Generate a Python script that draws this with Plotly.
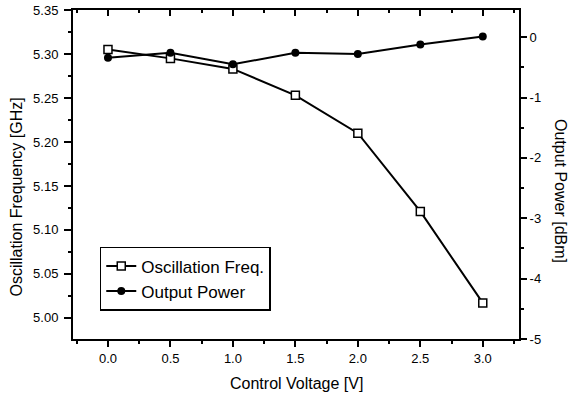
import plotly.graph_objects as go

voltage = [0.0, 0.5, 1.0, 1.5, 2.0, 2.5, 3.0]
osc_freq_ghz = [5.305, 5.295, 5.283, 5.253, 5.210, 5.121, 5.017]
output_power_dbm = [-0.34, -0.26, -0.45, -0.26, -0.28, -0.12, 0.01]

power_tickvals = [0, -1, -2, -3, -4, -5]
power_ticktext = ["0", "-1", "-2", "-3", "-4", "-5"]

FONT = "Liberation Sans, Arial, sans-serif"

fig = go.Figure()
fig.add_trace(go.Scatter(
    x=voltage, y=osc_freq_ghz, name="Oscillation Freq.",
    mode="lines+markers",
    line=dict(color="black", width=2),
    marker=dict(symbol="square", size=8, color="white", line=dict(color="black", width=1.5)),
    xaxis="x", yaxis="y",
))
fig.add_trace(go.Scatter(
    x=voltage, y=output_power_dbm, name="Output Power",
    mode="lines+markers",
    line=dict(color="black", width=2),
    marker=dict(symbol="circle", size=8, color="black"),
    xaxis="x", yaxis="y2",
))
# invisible trace to host the top mirror axis
fig.add_trace(go.Scatter(x=voltage, y=osc_freq_ghz, xaxis="x2", yaxis="y",
                         mode="markers", marker=dict(opacity=0), showlegend=False,
                         hoverinfo="skip"))

tickfont = dict(family=FONT, size=13, color="black")

fig.update_layout(
    width=568, height=399,
    margin=dict(l=73, r=49, t=10, b=60, autoexpand=False),
    paper_bgcolor="white", plot_bgcolor="white",
    font=dict(family=FONT, color="black"),
    showlegend=True,
    legend=dict(
        x=0.06, y=0.28, xanchor="left", yanchor="top",
        bordercolor="black", borderwidth=1.5, bgcolor="white",
        font=dict(family=FONT, size=17, color="black"),
        tracegroupgap=0, itemwidth=30,
    ),
    xaxis=dict(
        range=[-0.28, 3.29], dtick=0.5, tick0=0, tickformat=".1f",
        showgrid=False, zeroline=False, automargin=False,
        showline=True, linecolor="black", linewidth=2,
        ticks="outside", ticklen=6, tickwidth=1.5, tickcolor="black",
        minor=dict(dtick=0.25, ticks="outside", ticklen=3, tickwidth=1.5, tickcolor="black"),
        tickfont=tickfont,
    ),
    xaxis2=dict(
        overlaying="x", side="top", matches="x", automargin=False,
        showgrid=False, zeroline=False, showticklabels=False,
        showline=True, linecolor="black", linewidth=2,
        ticks="inside", ticklen=6, tickwidth=1.5, tickcolor="black",
        dtick=0.5, tick0=0,
        minor=dict(dtick=0.25, ticks="inside", ticklen=3, tickwidth=1.5, tickcolor="black"),
    ),
    yaxis=dict(
        range=[4.976, 5.35], dtick=0.05, tick0=5.0, tickformat=".2f",
        showgrid=False, zeroline=False, automargin=False,
        showline=True, linecolor="black", linewidth=2,
        ticks="outside", ticklen=7, tickwidth=1.5, tickcolor="black",
        ticklabelstandoff=3,
        minor=dict(dtick=0.025, ticks="outside", ticklen=3, tickwidth=1.5, tickcolor="black"),
        tickfont=tickfont,
    ),
    yaxis2=dict(
        overlaying="y", side="right", automargin=False,
        range=[-5, 0.45],
        tickmode="array", tickvals=power_tickvals, ticktext=power_ticktext,
        showgrid=False, zeroline=False,
        showline=True, linecolor="black", linewidth=2,
        ticks="outside", ticklen=6, tickwidth=1.5, tickcolor="black",
        minor=dict(tickmode="linear", dtick=0.5, tick0=0, ticks="outside", ticklen=3, tickwidth=1.5, tickcolor="black"),
        tickfont=tickfont,
    ),
)

title_font = dict(family=FONT, size=16, color="black")
fig.add_annotation(
    text="Control Voltage [V]", xref="paper", yref="paper",
    x=0.5, y=0, yshift=-44, yanchor="middle", showarrow=False, font=title_font,
)
fig.add_annotation(
    text="Oscillation Frequency [GHz]", xref="paper", yref="paper",
    x=0, xshift=-56, y=0.43, textangle=-90, xanchor="center", showarrow=False,
    font=title_font,
)
fig.add_annotation(
    text="Output Power [dBm]", xref="paper", yref="paper",
    x=1.0, xshift=41, y=0.45, textangle=90, xanchor="center", showarrow=False,
    font=title_font,
)

fig.write_html(
    "out.html",
    config={"displayModeBar": False},
    post_script="document.body.style.margin='0';document.body.style.overflow='hidden';",
)
